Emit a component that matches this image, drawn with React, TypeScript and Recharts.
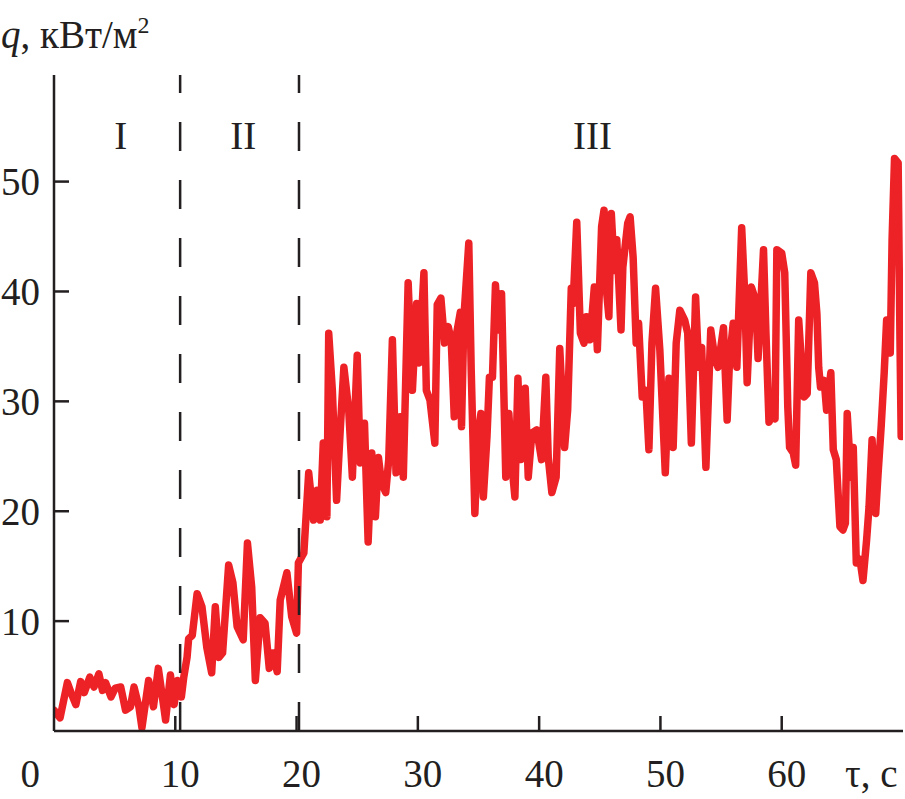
import React from 'react';
import { LineChart, Line, XAxis, YAxis, ReferenceLine, ReferenceDot } from 'recharts';

const times = [
  0.0, 0.5, 1.1, 1.4, 1.8, 2.2, 2.5, 2.95, 3.3, 3.7, 4.0, 4.25, 4.7, 5.05, 5.5, 5.9, 6.3, 6.6, 7.0, 7.25,
  7.8, 8.2, 8.6, 9.05, 9.2, 9.6, 9.9, 10.2, 10.5, 10.7, 10.97, 11.1, 11.4, 11.8, 12.2, 12.6, 13.0, 13.3, 13.6, 13.9,
  14.4, 14.75, 15.1, 15.6, 15.95, 16.3, 16.6, 17.0, 17.4, 17.75, 18.05, 18.4, 18.65, 19.2, 19.6, 20.0, 20.15, 20.6,
  21.0, 21.4, 21.7, 21.95, 22.2, 22.5, 22.65, 22.95, 23.3, 23.6, 23.9, 24.3, 24.6, 25.0, 25.25, 25.6, 25.9, 26.2,
  26.5, 26.75, 27.0, 27.35, 27.6, 27.9, 28.2, 28.55, 28.8, 29.2, 29.55, 29.9, 30.1, 30.5, 30.7, 31.0, 31.4, 31.6,
  31.9, 32.2, 32.5, 32.75, 33.0, 33.2, 33.5, 33.6, 33.8, 34.2, 34.4, 34.7, 34.95, 35.2, 35.4, 35.7, 35.9, 36.15,
  36.4, 36.6, 36.9, 37.25, 37.5, 37.8, 38.0, 38.25, 38.5, 38.85, 39.1, 39.4, 39.8, 40.2, 40.55, 40.75, 41.05, 41.4,
  41.7, 42.1, 42.35, 42.65, 42.8, 43.1, 43.4, 43.7, 43.9, 44.2, 44.55, 44.8, 45.15, 45.35, 45.55, 45.75, 45.95, 46.2,
  46.4, 46.75, 46.9, 47.3, 47.5, 47.75, 48.0, 48.2, 48.5, 48.8, 49.05, 49.3, 49.6, 49.95, 50.4, 50.7, 51.05, 51.3,
  51.6, 52.0, 52.25, 52.55, 52.9, 53.15, 53.4, 53.75, 54.15, 54.5, 54.75, 55.2, 55.5, 55.7, 56.0, 56.3, 56.7, 56.95,
  57.15, 57.5, 57.85, 58.05, 58.5, 58.7, 58.95, 59.3, 59.45, 59.6, 60.0, 60.25, 60.5, 60.65, 60.95, 61.15, 61.4, 61.6,
  61.85, 62.1, 62.4, 62.7, 62.9, 63.05, 63.2, 63.5, 63.7, 64.05, 64.25, 64.5, 64.8, 65.05, 65.25, 65.4, 65.7, 65.9,
  66.15, 66.45, 66.7, 67.0, 67.2, 67.45, 67.75, 67.95, 68.2, 68.45, 68.65, 68.95, 69.1, 69.3, 69.6, 69.75, 69.85, 70.0,
];

const flux = [
  1.9, 1.2, 4.4, 3.5, 2.4, 4.5, 3.5, 4.9, 4.0, 5.2, 3.7, 4.4, 3.1, 3.9, 4.0, 1.9, 2.2, 4.0, 2.2, 0.3,
  4.6, 2.2, 5.7, 2.2, 1.0, 5.1, 2.4, 4.6, 3.1, 4.9, 6.7, 8.4, 8.7, 12.5, 11.3, 7.6, 5.3, 11.3, 6.7, 7.1,
  15.1, 13.5, 9.5, 8.3, 17.1, 13.1, 4.6, 10.3, 9.8, 5.7, 7.1, 5.4, 11.9, 14.4, 10.4, 8.9, 15.3, 16.2,
  23.5, 19.2, 21.9, 19.2, 26.2, 19.5, 36.2, 31.0, 21.0, 27.4, 33.1, 29.2, 23.1, 34.2, 24.4, 28.0, 17.2, 25.3,
  19.5, 24.9, 22.6, 21.7, 24.7, 35.6, 23.5, 28.6, 23.1, 40.8, 31.0, 38.9, 33.5, 41.7, 31.0, 30.1, 26.2, 38.8,
  39.4, 35.3, 36.8, 35.6, 28.6, 36.2, 38.1, 27.7, 37.7, 44.4, 32.8, 19.8, 26.8, 28.9, 21.3, 26.8, 32.2, 32.2,
  40.6, 36.5, 39.8, 23.1, 28.9, 23.7, 21.3, 32.1, 24.7, 31.2, 23.1, 27.1, 27.4, 24.7, 32.2, 24.9, 21.7, 23.1,
  34.8, 25.8, 29.2, 40.3, 38.9, 46.3, 36.2, 35.3, 37.7, 35.6, 40.4, 34.7, 45.9, 47.4, 40.1, 37.7, 47.1, 41.9,
  44.7, 36.5, 42.2, 46.2, 46.8, 43.1, 35.3, 37.1, 30.4, 31.0, 25.6, 35.3, 40.3, 34.7, 23.5, 32.1, 25.8, 35.3,
  38.3, 37.4, 36.2, 26.2, 39.5, 33.1, 34.9, 24.0, 36.5, 33.8, 33.1, 36.7, 28.3, 33.8, 37.1, 33.1, 45.8, 39.8,
  31.7, 40.4, 39.2, 33.9, 43.8, 36.2, 28.1, 28.9, 28.4, 43.8, 43.5, 41.7, 29.5, 25.8, 25.3, 24.2, 37.4, 34.0,
  30.4, 30.7, 41.7, 40.8, 38.0, 33.1, 31.3, 31.9, 29.2, 32.6, 25.6, 24.7, 18.6, 18.3, 18.9, 28.9, 23.1, 25.8,
  15.3, 15.6, 13.7, 17.4, 20.4, 26.5, 19.8, 23.5, 27.7, 32.6, 37.4, 34.4, 44.7, 52.1, 51.7, 35.6, 26.8, 34.0,
];

const xTicks = [10, 20, 30, 40, 50, 60];
const yTicks = [10, 20, 30, 40, 50];
const zoneBounds = [10.4, 20.2];
const zoneLabels = ['I', 'II', 'III'];
const zoneLabelTimes = [5.5, 15.6, 44.4];
const zoneLabelLevel = 54.2;

const data = times.map((t, i) => ({ t, q: flux[i] }));

const INK = '#231f20';
const RED = '#ed2227';
const FONT = '"Liberation Serif", "Times New Roman", serif';
const FS = 39;

const YTick = (props: any) => {
  const { x, y, payload } = props;
  return (
    <g>
      <line x1={x} x2={x + 15} y1={y} y2={y} stroke={INK} strokeWidth={2.5} />
      <text x={x - 14} y={y} dy="0.35em" textAnchor="end" fontFamily={FONT} fontSize={FS} fill={INK}>
        {payload.value}
      </text>
    </g>
  );
};

const XTick = (props: any) => {
  const { x, y, payload } = props;
  return (
    <g>
      <line x1={x} x2={x} y1={y} y2={y - 15} stroke={INK} strokeWidth={2.5} />
      <text x={x + 5} y={y + 56} textAnchor="middle" fontFamily={FONT} fontSize={FS} fill={INK}>
        {payload.value}
      </text>
    </g>
  );
};

export default function App() {
  return (
    <div style={{ position: 'absolute', left: 0, top: 0, width: 905, height: 799, background: '#fff' }}>
      <LineChart
        width={905}
        height={799}
        data={data}
        margin={{ top: 75, right: 2, left: 0, bottom: 0 }}
      >
        <XAxis
          dataKey="t"
          type="number"
          domain={[0, 70]}
          ticks={xTicks}
          allowDataOverflow
          height={68}
          tickSize={0}
          tickMargin={0}
          tick={<XTick />}
          axisLine={{ stroke: INK, strokeWidth: 2.5 }}
          tickLine={false}
        />
        <YAxis
          type="number"
          domain={[0, 59.7]}
          ticks={yTicks}
          allowDataOverflow
          width={54}
          tickSize={0}
          tickMargin={0}
          tick={<YTick />}
          axisLine={{ stroke: INK, strokeWidth: 2.5 }}
          tickLine={false}
        />
        <Line
          type="linear"
          dataKey="q"
          stroke={RED}
          strokeWidth={7.5}
          strokeLinejoin="round"
          strokeLinecap="round"
          dot={false}
          isAnimationActive={false}
        />
        {zoneBounds.map((b) => (
          <ReferenceLine
            key={b}
            segment={[{ x: b, y: 59.7 }, { x: b, y: 0 }]}
            stroke={INK}
            strokeWidth={2.5}
            strokeDasharray="29 29"
            strokeDashoffset={11}
          />
        ))}
        {zoneLabels.map((l, i) => (
          <ReferenceDot
            key={l}
            x={zoneLabelTimes[i]}
            y={zoneLabelLevel}
            r={0}
            fill="none"
            stroke="none"
            label={{ value: l, position: 'center', fontFamily: FONT, fontSize: FS, fill: INK }}
          />
        ))}
      </LineChart>
      <svg
        width={905}
        height={799}
        style={{ position: 'absolute', left: 0, top: 0, pointerEvents: 'none' }}
      >
        <text x={1} y={48} fontFamily={FONT} fontSize={FS} fill={INK}>
          <tspan fontStyle="italic">q</tspan>
          <tspan>, кВт/м</tspan>
          <tspan fontSize={24} dy={-15}>2</tspan>
        </text>
        <text x={40} y={787} textAnchor="end" fontFamily={FONT} fontSize={FS} fill={INK}>0</text>
        <text x={845} y={787} fontFamily={FONT} fontSize={FS} fill={INK}>τ, с</text>
      </svg>
    </div>
  );
}
